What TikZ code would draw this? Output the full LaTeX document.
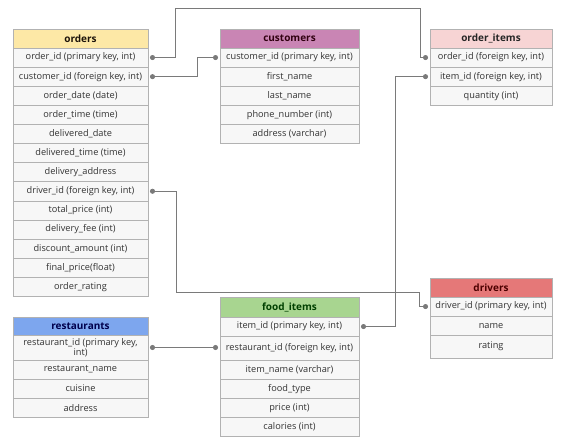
\documentclass[tikz,border=0pt]{standalone}
\usepackage{fontspec}
\setmainfont{Open Sans}
\usepackage{xcolor}
\usepackage{tikz}
\usetikzlibrary{arrows.meta,positioning}

\definecolor{rowgray}{HTML}{F7F7F7}
\definecolor{rowtext}{HTML}{333333}
\definecolor{linkgray}{HTML}{7A7A7A}
\definecolor{ordhead}{HTML}{FDE8A6}
\definecolor{cushead}{HTML}{C985B4}
\definecolor{oihead}{HTML}{F7D4D4}
\definecolor{drvhead}{HTML}{E57878}
\definecolor{foodhead}{HTML}{A8D590}
\definecolor{resthead}{HTML}{7DA6EE}

\begin{document}
\begin{tikzpicture}[
    x=1pt, y=-1pt,
    tbl/.style={rectangle, draw=gray!60, line width=0.6pt, outer sep=0pt, inner sep=1.5pt, align=center},
    hdr/.style={tbl, anchor=north west, minimum height=19pt, font=\fontsize{10}{12}\selectfont\bfseries},
    fld/.style={tbl, fill=rowgray, text=rowtext, minimum height=19.1pt, font=\fontsize{9.2}{11}\selectfont},
    link/.style={{Circle[length=5pt]}-{Circle[length=5pt]}, draw=linkgray, line width=0.8pt}
]
    \useasboundingbox (0,0) rectangle (567,440);

    % orders
    \begin{scope}[every node/.append style={minimum width=135pt}]
    \node[hdr, fill=ordhead, text=black!85!brown] (o0) at (13,29) {orders};
    \node[fld, below=0pt of o0] (o1) {order\_id (primary key, int)};
    \node[fld, below=0pt of o1] (o2) {customer\_id (foreign key, int)};
    \node[fld, below=0pt of o2] (o3) {order\_date (date)};
    \node[fld, below=0pt of o3] (o4) {order\_time (time)};
    \node[fld, below=0pt of o4] (o5) {delivered\_date};
    \node[fld, below=0pt of o5] (o6) {delivered\_time (time)};
    \node[fld, below=0pt of o6] (o7) {delivery\_address};
    \node[fld, below=0pt of o7] (o8) {driver\_id (foreign key, int)};
    \node[fld, below=0pt of o8] (o9) {total\_price (int)};
    \node[fld, below=0pt of o9] (o10) {delivery\_fee (int)};
    \node[fld, below=0pt of o10] (o11) {discount\_amount (int)};
    \node[fld, below=0pt of o11] (o12) {final\_price(float)};
    \node[fld, below=0pt of o12] (o13) {order\_rating};
    \end{scope}

    % customers
    \begin{scope}[every node/.append style={minimum width=139pt}]
    \node[hdr, fill=cushead, text=black!75!purple] (c0) at (220,29) {customers};
    \node[fld, below=0pt of c0] (c1) {customer\_id (primary key, int)};
    \node[fld, below=0pt of c1] (c2) {first\_name};
    \node[fld, below=0pt of c2] (c3) {last\_name};
    \node[fld, below=0pt of c3] (c4) {phone\_number (int)};
    \node[fld, below=0pt of c4] (c5) {address (varchar)};
    \end{scope}

    % order_items
    \begin{scope}[every node/.append style={minimum width=122pt}]
    \node[hdr, fill=oihead, text=black!85] (oi0) at (430,29) {order\_items};
    \node[fld, below=0pt of oi0] (oi1) {order\_id (foreign key, int)};
    \node[fld, below=0pt of oi1] (oi2) {item\_id (foreign key, int)};
    \node[fld, below=0pt of oi2] (oi3) {quantity (int)};
    \end{scope}

    % drivers
    \begin{scope}[every node/.append style={minimum width=122pt}]
    \node[hdr, fill=drvhead, text=black!70!red] (d0) at (430,278) {drivers};
    \node[fld, below=0pt of d0] (d1) {driver\_id (primary key, int)};
    \node[fld, below=0pt of d1] (d2) {name};
    \node[fld, below=0pt of d2, minimum height=23pt] (d3) {rating};
    \end{scope}

    % food_items
    \begin{scope}[every node/.append style={minimum width=139pt}]
    \node[hdr, fill=foodhead, text=black!75!green, minimum height=20pt] (f0) at (220,297) {food\_items};
    \node[fld, below=0pt of f0] (f1) {item\_id (primary key, int)};
    \node[fld, below=0pt of f1, minimum height=24pt] (f2) {restaurant\_id (foreign key, int)};
    \node[fld, below=0pt of f2] (f3) {item\_name (varchar)};
    \node[fld, below=0pt of f3] (f4) {food\_type};
    \node[fld, below=0pt of f4] (f5) {price (int)};
    \node[fld, below=0pt of f5] (f6) {calories (int)};
    \end{scope}

    % restaurants
    \begin{scope}[every node/.append style={minimum width=135pt}]
    \node[hdr, fill=resthead, text=black!70!blue, minimum height=18pt] (r0) at (13,317) {restaurants};
    \node[fld, below=0pt of r0, minimum height=25pt, font=\fontsize{9.2}{10}\selectfont] (r1) {restaurant\_id (primary key,\\ int)};
    \node[fld, below=0pt of r1] (r2) {restaurant\_name};
    \node[fld, below=0pt of r2] (r3) {cuisine};
    \node[fld, below=0pt of r3] (r4) {address};
    \end{scope}

    % Relations
    \draw[link] ([xshift=2pt]o1.east) -- ++(25,0) |- (420,8) |- ([xshift=-2pt]oi1.west);
    \draw[link] ([xshift=2pt]o2.east) -- ++(47,0) |- ([xshift=-2pt]c1.west);
    \draw[link] ([xshift=2pt]o8.east) -- ++(26,0) |- (419,292) |- ([xshift=-2pt]d1.west);
    \draw[link] ([xshift=2pt]f1.east) -- ++(34,0) |- ([xshift=-2pt]oi2.west);
    \draw[link] ([xshift=2pt]r1.east) -- ([xshift=-2pt]r1.east -| f2.west);
\end{tikzpicture}
\end{document}
